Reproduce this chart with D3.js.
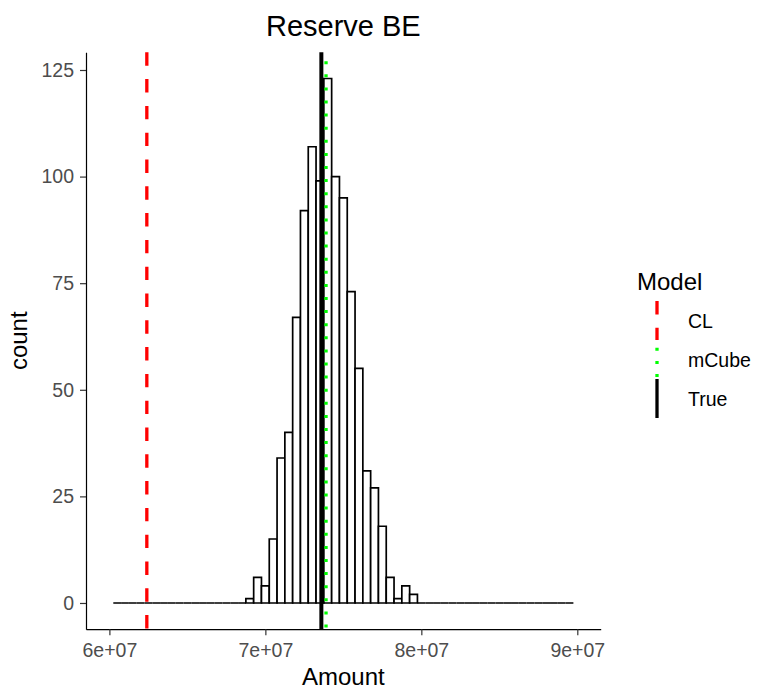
<!DOCTYPE html>
<html>
<head>
<meta charset="utf-8">
<script src="https://cdn.jsdelivr.net/npm/d3@7"></script>
<style>
  body { margin: 0; background: #fff; }
  svg { display: block; }
  text { font-family: "Liberation Sans", Arial, sans-serif; }
</style>
</head>
<body>
<svg id="chart" width="757" height="689"></svg>
<script>
// Histogram of simulated reserve best estimates (bin width 0.5M, bins centred on multiples of 0.5M)
const binWidth = 5e5;
const binCenters = d3.range(6.05e7, 8.95e7 + 1, binWidth);
const counts = [
  0, 0, 0, 0, 0, 0, 0, 0, 0, 0, 0, 0, 0, 0, 0, 0, 0,
  1, 6, 4, 15, 34, 40, 67, 92, 107, 99, 123, 100, 95, 73, 55, 31, 27, 18, 6, 1, 4, 2,
  0, 0, 0, 0, 0, 0, 0, 0, 0, 0, 0, 0, 0, 0, 0, 0, 0, 0, 0, 0
];

// Reference estimates drawn as vertical lines
const modelNames  = ["CL", "mCube", "True"];
const modelValues = [6.24e7, 7.389e7, 7.359e7];
const modelColors = ["#FF0000", "#00FF00", "#000000"];

const xLimits = [6e7, 9e7];
const xTicks = [6e7, 7e7, 8e7, 9e7];
const yTicks = [0, 25, 50, 75, 100, 125];

const svg = d3.select("#chart");
const panel = { left: 86, right: 600.7, top: 52.3, bottom: 629.2 };

// 5% expansion on both axes
const xPad = (xLimits[1] - xLimits[0]) * 0.05;
const x = d3.scaleLinear()
  .domain([xLimits[0] - xPad, xLimits[1] + xPad])
  .range([panel.left, panel.right]);
const yMax = d3.max(counts);
const y = d3.scaleLinear()
  .domain([-yMax * 0.05, yMax * 1.05])
  .range([panel.bottom, panel.top]);

const bins = binCenters.map((c, i) => ({ x0: c - binWidth / 2, x1: c + binWidth / 2, n: counts[i] }));

// bars: each bin outlined as a closed path so empty bins still show as a flat line
svg.append("g").selectAll("path")
  .data(bins)
  .join("path")
  .attr("d", d => {
    const p = d3.path();
    p.moveTo(x(d.x0), y(0));
    p.lineTo(x(d.x0), y(d.n));
    p.lineTo(x(d.x1), y(d.n));
    p.lineTo(x(d.x1), y(0));
    p.closePath();
    return p.toString();
  })
  .attr("fill", "#fff")
  .attr("stroke", "#000")
  .attr("stroke-width", 1.7)
  .attr("stroke-linejoin", "miter");

// vertical reference lines
const lineStyle = {
  "CL":    { dash: "13.4,13.4", offset: 0,   width: 3.3 },
  "mCube": { dash: "3,10.1",    offset: 4.2, width: 3.3 },
  "True":  { dash: null,        offset: 0,   width: 4 }
};
svg.append("g").selectAll("line")
  .data(modelNames.map((m, i) => ({ m, v: modelValues[i], c: modelColors[i] })))
  .join("line")
  .attr("x1", d => x(d.v)).attr("x2", d => x(d.v))
  .attr("y1", panel.top).attr("y2", panel.bottom)
  .attr("stroke", d => d.c)
  .attr("stroke-width", d => lineStyle[d.m].width)
  .attr("stroke-dasharray", d => lineStyle[d.m].dash)
  .attr("stroke-dashoffset", d => lineStyle[d.m].offset);

// axes
const fmt = v => {
  const [mant, exp] = v.toExponential(0).split("e");
  const e = parseInt(exp, 10);
  return mant + "e" + (e < 0 ? "-" : "+") + String(Math.abs(e)).padStart(2, "0");
};

const xAxis = svg.append("g")
  .attr("transform", `translate(0,${panel.bottom})`)
  .call(d3.axisBottom(x).tickValues(xTicks).tickFormat(fmt).tickSizeInner(6).tickSizeOuter(0).tickPadding(8));
const yAxis = svg.append("g")
  .attr("transform", `translate(${panel.left},0)`)
  .call(d3.axisLeft(y).tickValues(yTicks).tickSizeInner(6).tickSizeOuter(0).tickPadding(6));

[xAxis, yAxis].forEach(g => {
  g.select(".domain").attr("stroke", "#000").attr("stroke-width", 1.2);
  g.selectAll(".tick line").attr("stroke", "#333").attr("stroke-width", 1.2);
  g.selectAll(".tick text")
    .attr("fill", "#4D4D4D")
    .style("font-size", "19.5px")
    .style("font-family", "'Liberation Sans', Arial, sans-serif");
});

// titles
svg.append("text")
  .attr("x", (panel.left + panel.right) / 2).attr("y", 36)
  .attr("text-anchor", "middle")
  .style("font-size", "29px").attr("fill", "#000")
  .text("Reserve BE");

svg.append("text")
  .attr("x", (panel.left + panel.right) / 2).attr("y", 685)
  .attr("text-anchor", "middle")
  .style("font-size", "24px").attr("fill", "#000")
  .text("Amount");

svg.append("text")
  .attr("transform", `translate(27,${(panel.top + panel.bottom) / 2}) rotate(-90)`)
  .attr("text-anchor", "middle")
  .style("font-size", "24px").attr("fill", "#000")
  .text("count");

// legend
const legend = svg.append("g");
legend.append("text")
  .attr("x", 637).attr("y", 290)
  .style("font-size", "24px").attr("fill", "#000")
  .text("Model");

const keyTop = 301, keyH = 39, keyX = 657;
const legendKeyStyle = {
  "CL":    { dash: "13.4,13.4", offset: 0 },
  "mCube": { dash: "3,10.1",    offset: 5.3 },
  "True":  { dash: null,        offset: 0 }
};
modelNames.forEach((m, i) => {
  const top = keyTop + i * keyH;
  legend.append("line")
    .attr("x1", keyX).attr("x2", keyX)
    .attr("y1", top).attr("y2", top + keyH)
    .attr("stroke", modelColors[i])
    .attr("stroke-width", 3.3)
    .attr("stroke-dasharray", legendKeyStyle[m].dash)
    .attr("stroke-dashoffset", legendKeyStyle[m].offset);
  legend.append("text")
    .attr("x", 688).attr("y", top + keyH / 2)
    .attr("dominant-baseline", "central")
    .style("font-size", "19.5px").attr("fill", "#000")
    .text(m);
});
</script>
</body>
</html>
